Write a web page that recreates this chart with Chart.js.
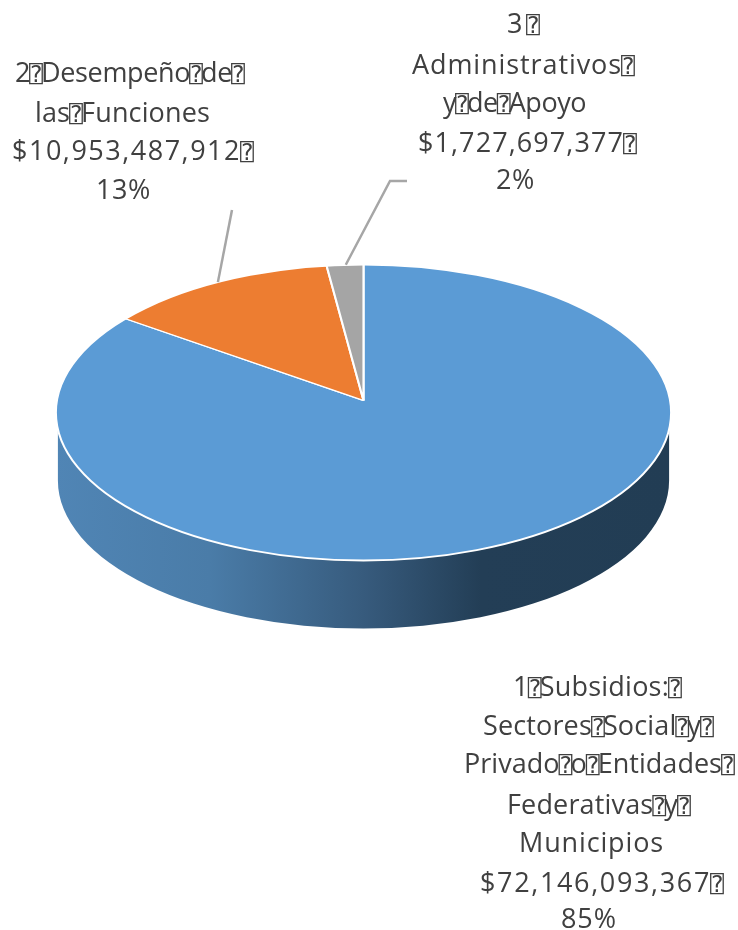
<!DOCTYPE html>
<html>
<head>
<meta charset="utf-8">
<style>html,body{margin:0;padding:0;background:#fff}canvas{display:block}</style>
<script src="https://cdn.jsdelivr.net/npm/chart.js@4"></script>
</head>
<body>
<canvas id="c" width="738" height="930"></canvas>
<script>
const TOFU = "\u2370";
const categoryLines = [
  ["1"+TOFU+"Subsidios:"+TOFU, "Sectores"+TOFU+"Social"+TOFU+"y"+TOFU, "Privado"+TOFU+"o"+TOFU+"Entidades"+TOFU, "Federativas"+TOFU+"y"+TOFU, "Municipios"],
  ["2"+TOFU+"Desempe\u00f1o"+TOFU+"de"+TOFU, "las"+TOFU+"Funciones"],
  ["3"+TOFU, "Administrativos"+TOFU, "y"+TOFU+"de"+TOFU+"Apoyo"]
];
const seriesValues = [72146093367, 10953487912, 1727697377];
const sliceColors = ["#5B9BD5", "#ED7D31", "#A5A5A5"];

const lineStartX = [
  [513, 483, 464, 507, 519, 480, 561],
  [15, 35, 12, 96],
  [507, 412, 443, 418, 496]
];
const lineEndX = [
  [682, 714, 735, 691, 664, 724, 617],
  [245, 210, 254, 151],
  [540, 635, 586, 637, 535]
];
const lineBaseY = [
  [696, 735, 773, 814, 852, 892, 928],
  [82, 122, 160, 199],
  [33, 74, 112, 152, 189]
];
const leaderBends = [null, [[232, 210]], [[390, 181], [407, 181]]];

const squash = 0.47, overscan = 1.2, rimDrop = 12, rimRadiusY = 148, sideDepth = 68;
const TEXT_FONT = '27px "Open Sans"', BOX_FONT = '23px "DejaVu Sans Mono"', BOX_ADVANCE = 11;

function drawLine(ctx, text, x, endX, y) {
  const parts = text.split(TOFU);
  ctx.font = TEXT_FONT;
  ctx.letterSpacing = "0px";
  let natural = 0, count = 0;
  parts.forEach(seg => { natural += ctx.measureText(seg).width; count += seg.length; });
  natural += (parts.length - 1) * BOX_ADVANCE + (text.endsWith(TOFU) ? 2 : 0);
  const spacing = (endX - x - natural) / Math.max(1, count);
  parts.forEach((seg, i) => {
    ctx.font = TEXT_FONT;
    ctx.letterSpacing = spacing + "px";
    ctx.fillText(seg, x, y);
    x += ctx.measureText(seg).width;
    if (i < parts.length - 1) {
      ctx.font = BOX_FONT;
      ctx.letterSpacing = "0px";
      ctx.fillText(TOFU, x - 1, y);
      x += BOX_ADVANCE;
    }
  });
}

const pie3d = {
  id: "pie3d",
  beforeDatasetsDraw(chart) {
    const ctx = chart.ctx, meta = chart.getDatasetMeta(0), a = meta.data[0];
    const R = a.outerRadius, rimY = a.y + rimDrop;
    const g = ctx.createLinearGradient(a.x - R, 0, a.x + R, 0);
    g.addColorStop(0, "#5085B5");
    g.addColorStop(0.25, "#4A7CA8");
    g.addColorStop(0.5, "#375B7D");
    g.addColorStop(0.69, "#233E56");
    g.addColorStop(1, "#223D54");
    ctx.save();
    ctx.fillStyle = g;
    ctx.beginPath();
    ctx.ellipse(a.x, rimY + sideDepth, R - 2, rimRadiusY, 0, 0, Math.PI);
    ctx.lineTo(a.x - R + 2, rimY);
    ctx.lineTo(a.x + R - 2, rimY);
    ctx.closePath();
    ctx.fill();
    ctx.restore();

    ctx.save();
    ctx.beginPath();
    ctx.ellipse(a.x, rimY, R, rimRadiusY, 0, 0, Math.PI * 2);
    ctx.clip();
    ctx.translate(a.x, a.y);
    ctx.scale(overscan, overscan * squash);
    ctx.translate(-a.x, -a.y);
    meta.controller.draw();
    ctx.restore();

    ctx.save();
    ctx.strokeStyle = "#FFFFFF";
    ctx.lineWidth = 2;
    ctx.beginPath();
    ctx.ellipse(a.x, rimY, R, rimRadiusY, 0, 0, Math.PI * 2);
    ctx.stroke();
    ctx.restore();
    return false;
  },
  afterDraw(chart) {
    const ctx = chart.ctx, arcs = chart.getDatasetMeta(0).data;
    const total = seriesValues.reduce((s, v) => s + v, 0);
    ctx.save();
    ctx.strokeStyle = "#A6A6A6";
    ctx.lineWidth = 2.5;
    arcs.forEach((a, i) => {
      if (!leaderBends[i]) return;
      const t = a.startAngle + 0.55 * (a.endAngle - a.startAngle);
      ctx.beginPath();
      ctx.moveTo(a.x + a.outerRadius * Math.cos(t), a.y + rimDrop + rimRadiusY * Math.sin(t));
      leaderBends[i].forEach(p => ctx.lineTo(p[0], p[1]));
      ctx.stroke();
    });
    ctx.fillStyle = "#404040";
    ctx.textBaseline = "alphabetic";
    ctx.textAlign = "left";
    seriesValues.forEach((v, i) => {
      const lines = categoryLines[i].concat([
        "$" + v.toLocaleString("en-US") + TOFU,
        Math.round(v / total * 100) + "%"
      ]);
      lines.forEach((l, j) => drawLine(ctx, l, lineStartX[i][j], lineEndX[i][j], lineBaseY[i][j]));
    });
    ctx.restore();
  }
};

new Chart(document.getElementById("c"), {
  type: "pie",
  data: {
    labels: categoryLines.map(l => l.join(" ")),
    datasets: [{
      data: seriesValues,
      backgroundColor: sliceColors,
      borderColor: "#FFFFFF",
      borderWidth: 1.8
    }]
  },
  options: {
    responsive: false,
    animation: false,
    layout: { padding: { left: 55, right: 66, top: 92, bottom: 221 } },
    plugins: { legend: { display: false }, tooltip: { enabled: false } }
  },
  plugins: [pie3d]
});
</script>
</body>
</html>
